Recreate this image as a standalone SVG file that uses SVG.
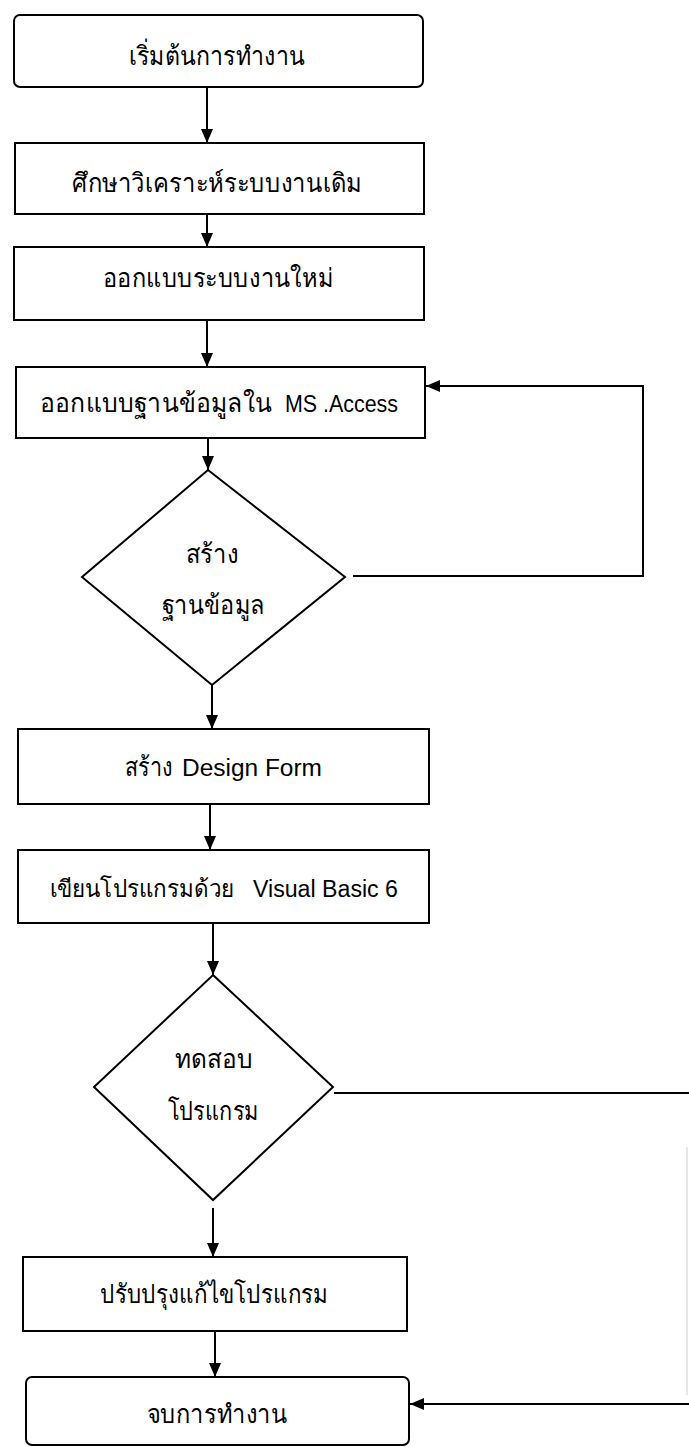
<svg xmlns="http://www.w3.org/2000/svg" width="689" height="1447" viewBox="0 0 689 1447">
<style>
.box{fill:#fff;stroke:#000;stroke-width:2}
.dia{fill:#fff;stroke:#000;stroke-width:2}
.c{fill:none;stroke:#000;stroke-width:2}
.t{font-family:"Liberation Sans","Noto Sans","DejaVu Sans",sans-serif;font-size:26px;fill:#000;text-anchor:middle}
.s{font-family:"Liberation Sans","Noto Sans","DejaVu Sans",sans-serif;font-size:26px;fill:#000;text-anchor:start}
.lat{font-family:"Liberation Sans",Arial,sans-serif;font-size:23px}
</style>
<defs>
<marker id="ah" markerUnits="userSpaceOnUse" markerWidth="14" markerHeight="13" refX="14" refY="6" orient="auto">
<path d="M0,0 L14,6 L0,12 z" fill="#000"/>
</marker>
</defs>
<rect width="689" height="1447" fill="#fff"/>
<g id="connectors">
<path class="c" d="M207,87 V143" marker-end="url(#ah)"/>
<path class="c" d="M207,214 V247" marker-end="url(#ah)"/>
<path class="c" d="M207,320 V367" marker-end="url(#ah)"/>
<path class="c" d="M208,438 V470" marker-end="url(#ah)"/>
<path class="c" d="M353,576 H643 V386 H426" marker-end="url(#ah)"/>
<path class="c" d="M212,685 V729" marker-end="url(#ah)"/>
<path class="c" d="M210,804 V850" marker-end="url(#ah)"/>
<path class="c" d="M213,923 V975" marker-end="url(#ah)"/>
<path class="c" d="M334,1093 H689"/>
<path d="M687,1147 V1395" fill="none" stroke="#ccc" stroke-width="1"/>
<path class="c" d="M689,1404 H410" marker-end="url(#ah)"/>
<path class="c" d="M213,1208 V1257" marker-end="url(#ah)"/>
<path class="c" d="M215,1331 V1377" marker-end="url(#ah)"/>
</g>
<g id="start">
<rect class="box" x="14" y="15" width="409" height="72" rx="6"/>
<text class="t" x="217" y="65" textLength="176" lengthAdjust="spacingAndGlyphs">เริ่มต้นการทำงาน</text>
</g>
<g id="study">
<rect class="box" x="15" y="143" width="409" height="71"/>
<text class="t" x="217" y="192" textLength="290" lengthAdjust="spacingAndGlyphs">ศึกษาวิเคราะห์ระบบงานเดิม</text>
</g>
<g id="design-system">
<rect class="box" x="14" y="247" width="410" height="73"/>
<text class="t" x="218" y="287" textLength="230" lengthAdjust="spacingAndGlyphs">ออกแบบระบบงานใหม่</text>
</g>
<g id="design-db">
<rect class="box" x="16" y="367" width="409" height="71"/>
<text class="s" y="412"><tspan x="40" textLength="232" lengthAdjust="spacingAndGlyphs">ออกแบบฐานข้อมูลใน</tspan><tspan class="lat" x="285" textLength="113" lengthAdjust="spacingAndGlyphs">MS .Access</tspan></text>
</g>
<g id="create-db">
<polygon class="dia" points="208,470 345,577 212,685 82,577"/>
<text class="t" x="212" y="563" textLength="53" lengthAdjust="spacingAndGlyphs">สร้าง</text>
<text class="t" x="213" y="614" textLength="103" lengthAdjust="spacingAndGlyphs">ฐานข้อมูล</text>
</g>
<g id="design-form">
<rect class="box" x="18" y="729" width="411" height="75"/>
<text class="s" y="776"><tspan x="125" textLength="48" lengthAdjust="spacingAndGlyphs">สร้าง</tspan><tspan class="lat" x="182" textLength="140" lengthAdjust="spacingAndGlyphs">Design Form</tspan></text>
</g>
<g id="write-program">
<rect class="box" x="18" y="850" width="411" height="73"/>
<text class="s" y="897"><tspan x="50" font-size="24" textLength="184" lengthAdjust="spacingAndGlyphs">เขียนโปรแกรมด้วย</tspan><tspan class="lat" x="253" textLength="145" lengthAdjust="spacingAndGlyphs">Visual Basic 6</tspan></text>
</g>
<g id="test-program">
<polygon class="dia" points="213,975 333,1087 213,1200 94,1087"/>
<text class="t" x="214" y="1068" textLength="78" lengthAdjust="spacingAndGlyphs">ทดสอบ</text>
<text class="t" x="213" y="1120" textLength="91" lengthAdjust="spacingAndGlyphs">โปรแกรม</text>
</g>
<g id="fix-program">
<rect class="box" x="23" y="1257" width="384" height="74"/>
<text class="t" x="214" y="1303" textLength="228" lengthAdjust="spacingAndGlyphs">ปรับปรุงแก้ไขโปรแกรม</text>
</g>
<g id="end">
<rect class="box" x="26" y="1377" width="383" height="68" rx="6"/>
<text class="t" x="217" y="1423" textLength="141" lengthAdjust="spacingAndGlyphs">จบการทำงาน</text>
</g>
</svg>
